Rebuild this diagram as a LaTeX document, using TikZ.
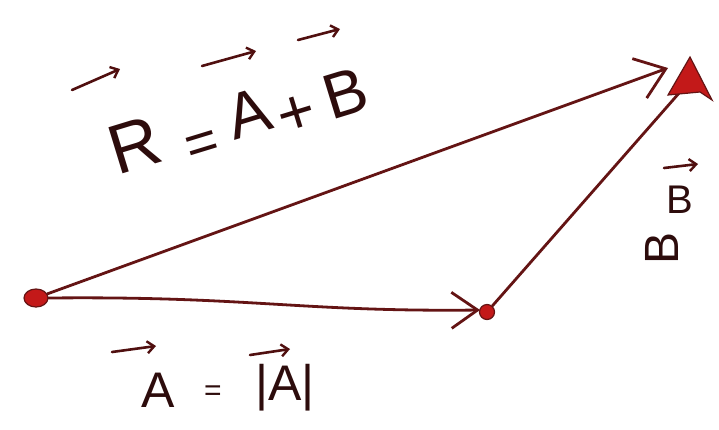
\documentclass[tikz,border=0pt]{standalone}
\usepackage{fontspec}
\setmainfont{Liberation Sans}
\usetikzlibrary{arrows.meta,shapes.geometric}
\definecolor{lineC}{RGB}{100,20,20}
\definecolor{dotC}{RGB}{195,25,25}
\definecolor{textC}{RGB}{45,12,12}
\definecolor{arrC}{RGB}{80,15,15}
\begin{document}
\begin{tikzpicture}[x=1pt,y=-1pt,
  vline/.style={draw=lineC,line width=2.8pt,line cap=round},
  dotn/.style={fill=dotC,draw=lineC,line width=1.2pt,inner sep=0pt},
  hand/.style={text=textC,inner sep=0pt},
  eqtext/.style={hand,font=\fontsize{64}{66}\selectfont,rotate=17},
  vecarr/.style={draw=arrC,line width=2.6pt,line cap=round,-{Straight Barb[length=7pt,width=12pt,line width=2.4pt]}}]
\useasboundingbox (0,0) rectangle (719,429);
\fill[white] (0,0) rectangle (719,429);
% points
\node[dotn,ellipse,minimum width=24pt,minimum height=18pt] (O) at (36,298) {};
\node[dotn,circle,minimum size=15pt] (M) at (487,312) {};
\coordinate (Rt) at (668,68);
\coordinate (At) at (480,310);
% resultant
\draw[vline,-{Straight Barb[length=28pt,width=42pt,line width=2.8pt]}] (O) -- (Rt);
% A
\draw[vline,-{Straight Barb[length=26pt,width=36pt,line width=2.8pt]}] (O.east) .. controls (250,296) and (300,312) .. (At);
% B
\draw[vline] (M) -- (680,92);
\fill[dotC,draw=lineC,line width=1.2pt] (690,57) -- (712,100) -- (700,92) -- (668,95) -- cycle;
% equation R = A + B
\node[eqtext,font=\fontsize{70}{72}\selectfont] (eR) at (135,145) {R};
\node[eqtext,font=\fontsize{56}{58}\selectfont] (eE) at (203,148) {=};
\node[eqtext] (eA) at (248,113) {A};
\node[eqtext] (eP) at (297,115) {+};
\node[eqtext] (eB) at (345,93) {B};
\draw[vecarr] (72,90) -- (120,69);
\draw[vecarr] (202,66) -- (256,51);
\draw[vecarr] (298,40) -- (340,29);
% bottom label
\node[hand,font=\fontsize{50}{52}\selectfont] (a1) at (158,390) {A};
\node[hand,font=\fontsize{30}{32}\selectfont] (eqb) at (213,393) {=};
\node[hand,font=\fontsize{50}{52}\selectfont] (a2) at (285,388) {|A|};
\draw[vecarr] (112,352) -- (156,346);
\draw[vecarr] (250,355) -- (290,349);
% right label
\node[hand,font=\fontsize{40}{42}\selectfont] (b1) at (680,200) {B};
\draw[vecarr] (664,168) -- (698,164);
\node[hand,font=\fontsize{48}{50}\selectfont,rotate=90] (b2) at (662,248) {B};
\end{tikzpicture}
\end{document}
